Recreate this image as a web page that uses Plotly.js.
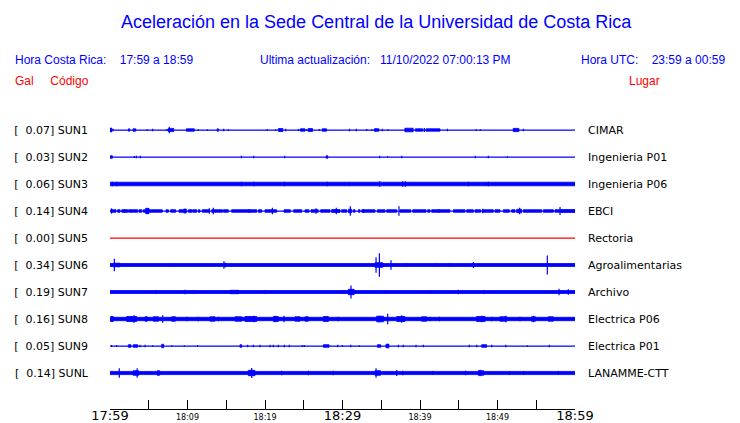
<!DOCTYPE html>
<html><head><meta charset="utf-8">
<script src="https://cdn.plot.ly/plotly-3.0.1.min.js"></script>
<style>html,body{margin:0;padding:0;background:#fff}#chart{width:740px;height:423px}</style>
</head><body><div id="chart"></div>
<script>
// ---- data ----
const codes = ['SUN1','SUN2','SUN3','SUN4','SUN5','SUN6','SUN7','SUN8','SUN9','SUNL'];
const gals = [0.07,0.03,0.06,0.14,0.00,0.34,0.19,0.16,0.05,0.14];
const places = ['CIMAR','Ingenieria P01','Ingenieria P06','EBCI','Rectoria','Agroalimentarias','Archivo','Electrica P06','Electrica P01','LANAMME-CTT'];
// background noise half-amplitude of each trace
const noise = [0.15, 0.15, 1.8, 0.15, 0.15, 1.5, 1.5, 1.7, 0.15, 1.6];
// minutes after 17:59
const tickMinutes = [0,5,10,15,20,25,30,35,40,45,50,55,60];
const tickLabels = ['17:59','','18:09','','18:19','','18:29','','18:39','','18:49','','18:59'];
const bigTicks = ['17:59','18:29','18:59'];

// bursts [start, end, amplitude] and spikes [time, amplitude]
const sun1Blocks = [[0.0,0.25,1.7],[2.38,2.53,1.2],[2.97,3.32,1.2],[7.52,8.22,1.6],[9.85,10.88,1.2],[13.82,13.98,1.2],[21.74,22.3,1.5],[24.56,25.16,1.2],[25.57,26.13,1.5],[27.38,27.94,1.2],[34.11,34.71,1.2],[38.05,39.12,1.8],[39.4,40.35,1.2],[40.78,42.58,1.2],[52.03,52.76,1.6]];
const sun1Spikes = [[0.1,2.3],[0.4,1.3],[4.8,0.7],[5.5,1.3],[7.35,1],[7.65,3.3],[11.4,0.7],[12.56,0.7],[14.67,1.3],[15.27,0.7],[20.3,0.7],[21.38,0.7],[22.67,1.3],[24.3,1],[25.38,1],[27.0,1],[30.9,1.3],[31.79,1.3],[33.12,1],[33.77,0.7],[34.3,1.7],[35.14,1.3],[35.83,0.7],[40.56,2],[43.53,1.3],[47.27,0.7],[47.79,0.7],[52.2,1.7],[53.34,1.3]];
const sun2Blocks = [[0.05,0.3,1.3],[27.9,28.1,1.3]];
const sun2Spikes = [[3.14,1],[3.4,1.3],[3.91,1.3],[16.95,1.3],[18.54,1.3],[22.54,1.3],[34.8,1.3],[35.83,0.7],[37.64,1.3],[47.14,1.3],[48.82,1.3],[51.27,0.7]];
const sun3Blocks = [];
const sun3Spikes = [[0.3,2.3],[0.86,2.3],[16.95,2.3],[18.6,2.3],[22.5,2.3],[28.04,2.3],[30.9,2],[34.8,2.7],[37.77,2.7],[38.1,2.7],[46.24,2.3],[48.82,2.3]];
const sun4Blocks = [[0.09,0.77,1.3],[0.99,1.29,1.3],[1.51,2.37,1.3],[2.45,3.57,1.3],[3.74,4.09,1.3],[4.3,4.6,1.3],[4.6,5.03,2.7],[5.03,6.75,1.3],[7.23,7.53,1.3],[7.83,8.47,1.3],[8.9,9.46,1.3],[9.51,9.85,2],[10.11,10.62,1.3],[10.71,11.18,1.3],[11.4,11.61,1.3],[11.91,12.77,1.3],[13.12,14.49,1.3],[14.62,15.27,1.3],[15.7,18.92,1.3],[19.14,19.57,1.3],[20.0,21.5,1.3],[22.45,23.27,1.3],[23.7,24.73,1.3],[25.16,25.68,1.3],[25.94,26.88,1.3],[27.18,28.39,1.3],[28.6,29.68,1.5],[29.89,30.54,1.3],[30.76,31.19,1.7],[31.4,31.62,1.3],[32.05,32.26,1.3],[32.48,34.2,1.3],[34.5,35.49,1.3],[35.7,37.0,1.3],[37.42,38.8,1.3],[39.06,40.78,1.3],[40.99,41.29,1.3],[41.51,43.87,1.3],[44.3,45.81,1.3],[46.02,46.88,1.3],[47.1,47.83,1.3],[48.05,49.46,1.3],[49.68,50.32,1.3],[50.76,51.53,1.3],[51.83,52.26,1.3],[52.48,53.12,1.7],[53.34,55.7,1.3],[55.92,57.21,1.3],[57.42,58.07,1.3],[58.15,60.0,1.5]];
const sun4Spikes = [[0.2,2.7],[1.9,2],[4.9,2.7],[12.82,2.7],[13.33,3.3],[17.98,2],[20.95,3.3],[26.58,2.7],[29.2,3.3],[31.01,4.7],[32.69,2],[37.29,4.7],[42.41,2],[48.09,2.3],[52.86,3.3],[58.07,4]];
const sun5Blocks = [];
const sun5Spikes = [];
const sun6Blocks = [[0.43,1.29,1.8],[34.2,35.2,2.3]];
const sun6Spikes = [[0.56,6.3],[8.17,1.7],[14.7,3.7],[14.9,2.3],[34.33,7.7],[34.76,11.7],[36.26,4.7],[38.28,1.7],[42.15,1.7],[43.74,1.7],[46.88,3],[56.43,9.5]];
const sun7Blocks = [[15.5,16.6,1.7],[30.75,31.5,2.7]];
const sun7Spikes = [[6.0,2],[9.68,2.3],[10.75,2],[16.4,2],[20.0,2],[30.0,2],[31.1,6.5],[35.7,2],[41.2,2],[44.95,2.3],[48.26,2],[57.94,3.3],[59.14,2.7]];
const sun8Blocks = [[0.09,0.43,2.5],[2.15,3.44,2.5],[4.52,4.82,2.2],[5.59,6.24,2.2],[7.96,8.47,2.2],[12.9,13.55,2.2],[16.13,16.99,2.2],[17.42,18.92,2.5],[21.08,21.72,2.5],[23.87,24.52,2.2],[25.16,25.59,2.2],[27.53,28.17,2.5],[34.4,35.3,2.8],[37.0,38.07,2.5],[40.2,40.86,2.2],[47.3,48.4,2.5],[50.3,51.2,2.2],[54.4,54.9,2.2],[56.56,57.2,2.2]];
const sun8Spikes = [[0.2,3],[3.09,3.7],[6.8,3.7],[9.9,2.3],[11.4,2.3],[14.0,2.3],[18.58,3.3],[21.3,3.3],[22.45,3.3],[29.4,2.3],[34.76,3.3],[35.83,5.3],[37.64,3.7],[41.3,2.3],[42.5,2.3],[47.96,3.3],[49.25,2.3],[51.06,3.3],[52.9,2.3],[54.63,3.3]];
const sun9Blocks = [[2.37,2.71,1.3],[3.0,3.57,1.3],[6.67,6.92,1.7],[16.77,16.99,1.3],[27.53,28.26,1.3],[34.5,34.93,1.3],[35.6,36.0,1.7],[47.96,48.6,1.3]];
const sun9Spikes = [[0.2,1],[0.86,1],[3.87,1.3],[4.52,1.3],[5.5,0.7],[7.96,0.7],[9.6,0.7],[11.3,1],[17.76,1.3],[18.5,1.3],[19.35,1.3],[20.65,1.3],[21.08,1.3],[21.72,1.3],[22.5,1.3],[23.14,1.3],[24.8,1],[25.07,1],[29.38,1.3],[29.98,1],[31.06,1.3],[32.17,0.7],[35.83,2.3],[37.21,1.3],[37.85,1.3],[39.49,1.3],[40.43,1.3],[46.37,1.3],[47.31,1.3],[49.25,1.3],[51.06,1.3],[53.85,0.7],[56.69,1.3]];
const sunLBlocks = [[3.0,3.7,2.3],[6.1,6.4,2.3],[17.85,18.7,2.7],[34.2,34.9,2.3],[47.5,48.2,2.3]];
const sunLSpikes = [[1.2,4.7],[3.5,4.7],[18.28,5],[22.15,2.3],[25.6,2.3],[28.8,2.3],[34.33,4.7],[37.0,3],[37.77,2.3],[41.64,2],[45.9,2.3],[47.75,3.3],[51.53,2],[53.34,2],[57.85,2]];

const allBlocks = [sun1Blocks,sun2Blocks,sun3Blocks,sun4Blocks,sun5Blocks,sun6Blocks,sun7Blocks,sun8Blocks,sun9Blocks,sunLBlocks];
const allSpikes = [sun1Spikes,sun2Spikes,sun3Spikes,sun4Spikes,sun5Spikes,sun6Spikes,sun7Spikes,sun8Spikes,sun9Spikes,sunLSpikes];

// ---- layout helpers ----
const ROW = 27;
const centers = codes.map((c,i)=>-i*ROW);
const BLUE = '#0000ff', RED = '#ff0000';
const nb = n => '\u00a0'.repeat(n);

const traces = [];
codes.forEach((code,i)=>{
  const c = centers[i];
  const col = code==='SUN5' ? RED : BLUE;
  const px=[], py=[];
  const n = noise[i];
  px.push(0,60,60,0,0,null); py.push(c-n,c-n,c+n,c+n,c-n,null);
  allBlocks[i].forEach(([s,e,a])=>{px.push(s,e,e,s,s,null); py.push(c-a,c-a,c+a,c+a,c-a,null);});
  traces.push({type:'scatter',mode:'lines',x:px,y:py,fill:'toself',fillcolor:col,
    line:{color:col,width:0.8},hoverinfo:'skip',showlegend:false});
  const sx=[], sy=[];
  allSpikes[i].forEach(([t,a])=>{sx.push(t,t,null); sy.push(c-a,c+a,null);});
  traces.push({type:'scatter',mode:'lines',x:sx,y:sy,line:{color:col,width:1.2},
    hoverinfo:'skip',showlegend:false});
});
// anchor trace for the right-hand label axis
traces.push({type:'scatter',mode:'lines',x:[null],y:[null],yaxis:'y2',showlegend:false,hoverinfo:'skip'});

const L=110, R=575, TOP=110, BOT=409;
const W=740, H=423;
const fx = p => (p-L)/(R-L);
const fy = p => (BOT-p)/(BOT-TOP);
const hdrFont = {family:'Liberation Sans, Arial, sans-serif', size:12, color:BLUE};

const annotations = [
  {text:'Aceleración en la Sede Central de la Universidad de Costa Rica', x:fx(376), y:fy(22), xanchor:'center', yanchor:'middle',
   font:{family:'Liberation Sans, Arial, sans-serif', size:18, color:BLUE}},
  {text:'Hora Costa Rica:'+nb(4)+'17:59 a 18:59', x:fx(14), y:fy(60), xanchor:'left', yanchor:'middle', font:hdrFont},
  {text:'Ultima actualización:'+nb(3)+'11/10/2022 07:00:13 PM', x:fx(259), y:fy(60), xanchor:'left', yanchor:'middle', font:hdrFont},
  {text:'Hora UTC:'+nb(4)+'23:59 a 00:59', x:fx(726), y:fy(60), xanchor:'right', yanchor:'middle', font:hdrFont},
  {text:'Gal'+nb(5)+'Código', x:fx(14), y:fy(81), xanchor:'left', yanchor:'middle', font:{...hdrFont, color:RED}},
  {text:'Lugar', x:fx(628), y:fy(81), xanchor:'left', yanchor:'middle', font:{...hdrFont, color:RED}}
].map(a=>Object.assign({xref:'paper',yref:'paper',showarrow:false,borderpad:0}, a));

const labelFont = {family:'DejaVu Sans, sans-serif', size:11, color:'#000'};
const yRange = [-(9*ROW+36), 20];

const layout = {
  width:W, height:H,
  margin:{l:L, r:W-R, t:TOP, b:H-BOT, pad:0},
  paper_bgcolor:'#fff', plot_bgcolor:'#fff',
  showlegend:false,
  xaxis:{range:[0,60], fixedrange:true, showgrid:false, zeroline:false,
    showline:true, linecolor:'#000', linewidth:1,
    tickmode:'array', tickvals:tickMinutes,
    ticktext:tickLabels.map(t=> bigTicks.includes(t) ? '<span style="font-size:13px">'+t+'</span>' : t),
    ticks:'inside', ticklen:9, tickcolor:'#000', tickwidth:1,
    tickfont:{family:'DejaVu Sans, sans-serif', size:8, color:'#000'}},
  yaxis:{range:yRange, fixedrange:true, showgrid:false, zeroline:false, showline:false,
    tickmode:'array', tickvals:centers,
    ticktext:codes.map((c,i)=>'['+nb(2)+gals[i].toFixed(2)+']'+nb(1)+c),
    ticks:'', ticklabelstandoff:21, tickfont:labelFont},
  yaxis2:{range:yRange, overlaying:'y', side:'right', fixedrange:true, showgrid:false, zeroline:false, showline:false,
    tickmode:'array', tickvals:centers, ticktext:places,
    ticks:'', ticklabelstandoff:12, tickfont:labelFont},
  annotations:annotations
};

Plotly.newPlot('chart', traces, layout, {displayModeBar:false, staticPlot:true});
</script>
</body></html>
